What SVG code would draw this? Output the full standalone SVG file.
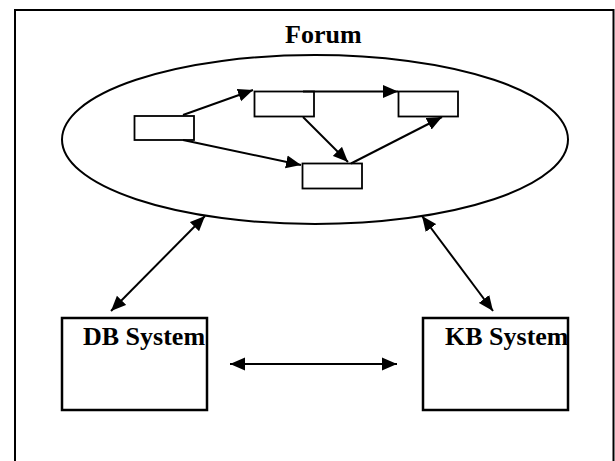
<svg xmlns="http://www.w3.org/2000/svg" width="615" height="461" viewBox="0 0 615 461">
<style>
.frame{fill:#fff;stroke:#000;stroke-width:2}
.box{fill:#fff;stroke:#000;stroke-width:2.5}
.sbox{fill:#fff;stroke:#000;stroke-width:1.8}
.ell{fill:none;stroke:#000;stroke-width:2}
.c{stroke:#000;stroke-width:2;fill:none}
.t{font-family:"Liberation Serif","Times New Roman",serif;font-weight:bold;font-size:26px;fill:#000}
</style>
<defs>
<marker id="ah" markerUnits="userSpaceOnUse" markerWidth="16" markerHeight="14" refX="15" refY="6.5" orient="auto-start-reverse" viewBox="0 0 16 13">
<path d="M0,0 L15,6.5 L0,13 z" fill="#000"/>
</marker>
</defs>
<rect class="frame" x="15" y="10" width="598.5" height="460"/>
<g id="forum">
<ellipse class="ell" cx="315" cy="139.5" rx="253" ry="84.5"/>
<text class="t" x="285" y="43">Forum</text>
</g>
<g id="n1"><rect class="sbox" x="134.5" y="116" width="59.5" height="24"/></g>
<g id="n2"><rect class="sbox" x="254.5" y="91.5" width="59.5" height="25"/></g>
<g id="n3"><rect class="sbox" x="398.5" y="91.5" width="59.5" height="25"/></g>
<g id="n4"><rect class="sbox" x="302.5" y="163.5" width="59.5" height="25"/></g>
<g id="db">
<rect class="box" x="62" y="318" width="145" height="92"/>
<text class="t" x="83" y="345">DB System</text>
</g>
<g id="kb">
<rect class="box" x="423" y="318" width="145" height="92"/>
<text class="t" x="445" y="345">KB System</text>
</g>
<g id="connectors">
<line class="c" x1="183" y1="115" x2="253" y2="90" marker-end="url(#ah)"/>
<line class="c" x1="303" y1="91.5" x2="398" y2="91.5" marker-end="url(#ah)"/>
<line class="c" x1="303" y1="117" x2="348" y2="162" marker-end="url(#ah)"/>
<line class="c" x1="351" y1="163.5" x2="442" y2="117" marker-end="url(#ah)"/>
<line class="c" x1="183" y1="140" x2="301" y2="165" marker-end="url(#ah)"/>
<line class="c" x1="205" y1="216" x2="111" y2="311" marker-start="url(#ah)" marker-end="url(#ah)"/>
<line class="c" x1="422" y1="216" x2="493" y2="311" marker-start="url(#ah)" marker-end="url(#ah)"/>
<line class="c" x1="230" y1="364" x2="397" y2="364" marker-start="url(#ah)" marker-end="url(#ah)"/>
</g>
</svg>
